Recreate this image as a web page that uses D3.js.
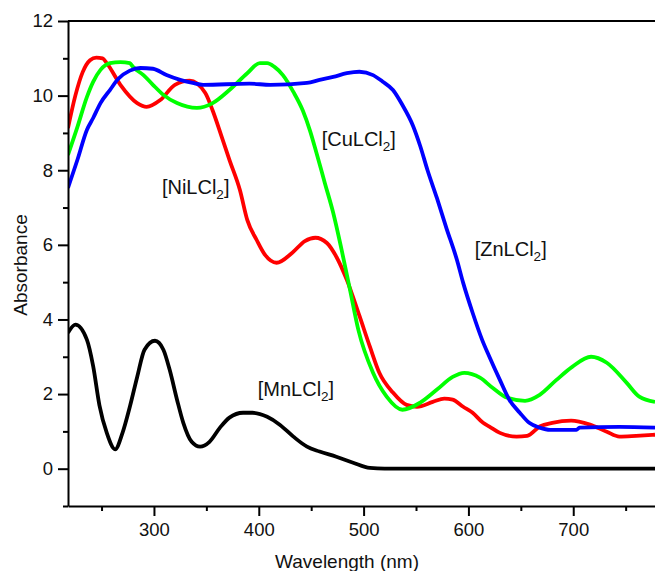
<html>
<head>
<script src="https://cdn.jsdelivr.net/npm/d3@7"></script>
<style>
  body { margin: 0; background: #fff; }
  .chart text { font-family: "Liberation Sans", Arial, sans-serif; fill: #111; }
</style>
</head>
<body>
<svg class="chart"></svg>
<script>
// spectra: [wavelength nm, absorbance]
niPoints = [[218,9.13],[225,10.0],[232,10.63],[239,10.95],[245,11.02],[251,11.0],[255,10.87],[268,10.29],
  [284,9.8],[293,9.7],[306,9.88],[320,10.29],[334,10.4],[349,10.07],[356,9.6],[364,8.95],[372,8.28],
  [382,7.47],[389,6.67],[398,6.13],[406,5.73],[417,5.52],[432,5.79],[444,6.1],[454,6.19],[465,6.05],
  [474,5.68],[484,5.06],[496,4.1],[506,3.27],[515,2.57],[528,2.04],[541,1.71],[551,1.66],[566,1.79],
  [577,1.88],[585,1.85],[595,1.66],[604,1.5],[614,1.23],[620,1.13],[630,0.96],[646,0.86],[656,0.88],
  [668,1.13],[680,1.23],[698,1.29],[716,1.18],[732,0.99],[744,0.86],[760,0.88],[778,0.91]];
cuPoints = [[218,8.41],[227,9.16],[236,9.96],[242,10.37],[249,10.69],[258,10.87],[268,10.9],[277,10.87],
  [280,10.77],[290,10.55],[299,10.29],[309,10.02],[322,9.8],[341,9.67],[356,9.8],[372,10.15],[389,10.6],
  [401,10.87],[408,10.87],[415,10.77],[423,10.55],[433,10.1],[442,9.6],[449,9.05],[455,8.47],[463,7.66],
  [471,6.86],[479,5.87],[487,4.8],[495,3.72],[509,2.57],[522,1.93],[537,1.58],[554,1.77],[570,2.12],
  [585,2.46],[596,2.57],[611,2.44],[623,2.17],[637,1.9],[654,1.82],[668,1.98],[684,2.38],[699,2.73],
  [717,3.0],[732,2.84],[751,2.3],[763,1.93],[778,1.79]];
znPoints = [[218,7.53],[227,8.28],[236,9.08],[242,9.4],[249,9.8],[258,10.15],[266,10.45],[277,10.67],
  [287,10.74],[299,10.72],[312,10.55],[325,10.42],[337,10.34],[347,10.29],[391,10.32],[411,10.29],
  [446,10.34],[458,10.42],[471,10.5],[484,10.6],[496,10.64],[509,10.55],[518,10.38],[528,10.15],
  [537,9.75],[547,9.2],[554,8.65],[561,8.0],[570,7.25],[579,6.45],[589,5.6],[595,4.98],[604,4.18],
  [613,3.46],[620,3.0],[630,2.38],[639,1.85],[649,1.5],[658,1.23],[668,1.1],[678,1.04],[703,1.04],
  [706,1.1],[744,1.12],[778,1.1]];
mnPoints = [[218,3.64],[225,3.86],[236,3.46],[242,2.75],[248,1.7],[255,0.96],[263,0.52],[270,0.96],
  [277,1.66],[284,2.46],[291,3.19],[301,3.43],[309,3.19],[315,2.65],[322,1.85],[328,1.23],[336,0.72],
  [344,0.59],[353,0.72],[363,1.1],[372,1.37],[385,1.5],[394,1.5],[408,1.39],[420,1.18],[433,0.86],
  [446,0.59],[458,0.46],[474,0.32],[490,0.16],[506,0.02],[520,0],[778,0]];

seriesNames = ["NiLCl", "CuLCl", "ZnLCl", "MnLCl"];
seriesColors = ["#ff0000", "#00ff00", "#0000ff", "#000000"];
allSeries = [niPoints, cuPoints, znPoints, mnPoints];
labelSpots = [[307.6, 7.37], [460, 8.65], [606, 5.71], [399, 1.96]]; // [nm, absorbance] of label baseline start

xMajor = [300, 400, 500, 600, 700];
xMinor = [250, 350, 450, 550, 650, 750];
yMajor = [0, 2, 4, 6, 8, 10, 12];
yMinor = [-1, 1, 3, 5, 7, 9, 11];

var width = 655, height = 571;
var plotLeft = 68, plotRight = 655, plotTop = 21, plotBottom = 506;

x = d3.scaleLinear().domain([218, 778]).range([plotLeft, plotRight]);
y = d3.scaleLinear().domain([-1, 12]).range([plotBottom, plotTop]);

chart = d3.select(".chart").attr("width", width).attr("height", height);

chart.append("clipPath").attr("id", "plot")
  .append("rect").attr("x", plotLeft).attr("y", plotTop - 2)
  .attr("width", plotRight - plotLeft).attr("height", plotBottom - plotTop + 2);

var line = d3.line()
  .x(function(d) { return x(d[0]); })
  .y(function(d) { return y(d[1]); })
  .curve(d3.curveMonotoneX);

chart.append("g").attr("clip-path", "url(#plot)")
  .selectAll("path")
  .data(allSeries)
  .enter().append("path")
    .attr("fill", "none")
    .attr("stroke", function(d, i) { return seriesColors[i]; })
    .attr("stroke-width", 3.8)
    .attr("stroke-linejoin", "round")
    .attr("d", line);

// axes
chart.append("g").attr("transform", "translate(0," + plotBottom + ")")
  .call(d3.axisBottom(x).tickValues(xMajor).tickSize(10).tickPadding(7).tickSizeOuter(0));
chart.append("g").attr("transform", "translate(0," + plotBottom + ")")
  .call(d3.axisBottom(x).tickValues(xMinor).tickSize(5).tickFormat("").tickSizeOuter(0))
  .select(".domain").remove();
chart.append("g").attr("transform", "translate(" + plotLeft + ",0)")
  .call(d3.axisLeft(y).tickValues(yMajor).tickSize(10).tickPadding(5).tickSizeOuter(0));
chart.append("g").attr("transform", "translate(" + plotLeft + ",0)")
  .call(d3.axisLeft(y).tickValues(yMinor).tickSize(5).tickFormat("").tickSizeOuter(0))
  .select(".domain").remove();

chart.selectAll(".domain, .tick line").attr("stroke", "#000").attr("stroke-width", 2);
chart.selectAll(".tick text").attr("font-size", "18.5px").attr("fill", "#111");

// top frame line
chart.append("line")
  .attr("x1", plotLeft).attr("x2", plotRight).attr("y1", y(12)).attr("y2", y(12))
  .attr("stroke", "#000").attr("stroke-width", 2);

chart.append("text")
  .attr("x", 347).attr("y", 568)
  .attr("text-anchor", "middle").attr("font-size", "19px")
  .text("Wavelength (nm)");

chart.append("text")
  .attr("transform", "translate(27,265) rotate(-90)")
  .attr("text-anchor", "middle").attr("font-size", "19px")
  .text("Absorbance");

// series labels with subscript 2
labelSpots.forEach(function(p, i) {
  var t = chart.append("text")
    .attr("x", x(p[0])).attr("y", y(p[1]))
    .attr("font-size", "20px");
  t.append("tspan").text("[" + seriesNames[i]);
  t.append("tspan").attr("dy", 5).attr("font-size", "13.5px").text("2");
  t.append("tspan").attr("dy", -5).text("]");
});
</script>
</body>
</html>
